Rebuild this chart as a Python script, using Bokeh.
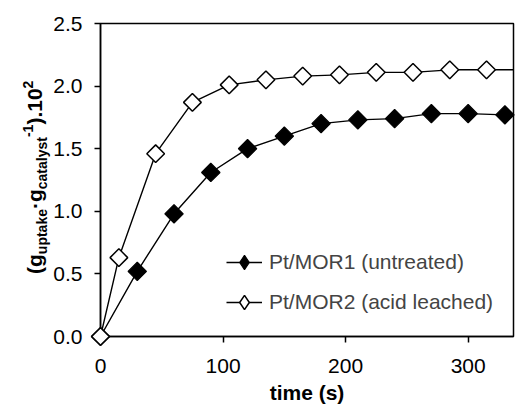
from bokeh.plotting import figure
from bokeh.models import FixedTicker, PrintfTickFormatter, Range1d, Legend, LegendItem, Div
from bokeh.layouts import row
from bokeh.embed import file_html
from bokeh.resources import INLINE
import math

# ---- data ----
time_untreated = [0, 30, 60, 90, 120, 150, 180, 210, 240, 270, 300, 330]
uptake_untreated = [0.0, 0.52, 0.98, 1.31, 1.50, 1.60, 1.70, 1.73, 1.74, 1.78, 1.78, 1.77]
time_leached = [0, 15, 45, 75, 105, 135, 165, 195, 225, 255, 285, 315]
uptake_leached = [0.0, 0.63, 1.46, 1.87, 2.01, 2.05, 2.08, 2.09, 2.11, 2.11, 2.13, 2.13]
# curves continue to the right edge of the frame
curve_end_time = 337
curve_end_untreated = 1.78
curve_end_leached = 2.13

x_ticks = [0, 100, 200, 300]
y_ticks = [0.0, 0.5, 1.0, 1.5, 2.0, 2.5]
legend_labels = ["Pt/MOR1 (untreated)", "Pt/MOR2 (acid leached)"]
x_title = "time (s)"
# y title pieces: (text, kind) kind: main / sub / sup
y_title_pieces = [("(g", "main"), ("uptake", "sub"), ("·g", "main"), ("catalyst", "sub"),
                  ("-1", "sup"), (").10", "main"), ("2", "sup")]

X_END = 337
Y_END = 2.5
FONT = "Liberation Sans"
FS = "21px"

# ---------- main chart ----------
p = figure(width=465, height=406, output_backend="svg", toolbar_location=None,
           x_range=Range1d(0, X_END), y_range=Range1d(0, Y_END),
           min_border_left=47, min_border_right=2, min_border_top=23, min_border_bottom=70)
p.margin = 0
p.background_fill_color = "white"
p.border_fill_color = "white"
p.outline_line_color = "black"
p.outline_line_width = 1.5
p.xgrid.visible = False
p.ygrid.visible = False

for ax in (p.xaxis[0], p.yaxis[0]):
    ax.axis_line_color = "black"
    ax.axis_line_width = 1.5
    ax.major_tick_line_color = "black"
    ax.major_tick_line_width = 1.5
    ax.major_tick_in = 0
    ax.major_tick_out = 6
    ax.minor_tick_line_color = None
    ax.major_label_text_font = FONT
    ax.major_label_text_font_size = FS
    ax.major_label_text_color = "black"
    ax.major_label_text_line_height = 1.0

p.xaxis.ticker = FixedTicker(ticks=x_ticks)
p.xaxis.formatter = PrintfTickFormatter(format="%d")
p.xaxis.major_label_standoff = 16
p.xaxis.axis_label = x_title
p.xaxis.axis_label_text_font = FONT
p.xaxis.axis_label_text_font_style = "bold"
p.xaxis.axis_label_text_font_size = FS
p.xaxis.axis_label_standoff = 5
p.xaxis.axis_label_text_color = "black"
p.xaxis.axis_label_text_line_height = 1.0

p.yaxis.ticker = FixedTicker(ticks=y_ticks)
p.yaxis.formatter = PrintfTickFormatter(format="%.1f")
p.yaxis.major_label_standoff = 12

# curves
l1 = p.line(time_untreated + [curve_end_time], uptake_untreated + [curve_end_untreated],
            line_color="black", line_width=1.4)
l2 = p.line(time_leached + [curve_end_time], uptake_leached + [curve_end_leached],
            line_color="black", line_width=1.4)
# markers: rotated squares (diamonds)
p.scatter(time_untreated, uptake_untreated, marker="square", angle=math.pi / 4,
          size=13, fill_color="black", line_color="black", line_width=1.2, level="overlay")
p.scatter(time_leached, uptake_leached, marker="square", angle=math.pi / 4,
          size=12.5, fill_color="white", line_color="black", line_width=1.5, level="overlay")
# legend-only diamond glyphs (legends draw markers unrotated)
d1 = p.scatter(time_untreated, uptake_untreated, marker="diamond", size=13,
               fill_color="black", line_color="black", line_width=1.2, visible=False)
d2 = p.scatter(time_leached, uptake_leached, marker="diamond", size=13,
               fill_color="white", line_color="black", line_width=1.5, visible=False)

legend = Legend(items=[LegendItem(label=legend_labels[0], renderers=[l1, d1]),
                       LegendItem(label=legend_labels[1], renderers=[l2, d2])],
                location=(126, 14), padding=0, margin=0, spacing=0,
                glyph_width=36, glyph_height=40, label_height=40, label_standoff=7,
                label_text_font=FONT, label_text_font_size=FS,
                background_fill_alpha=0, border_line_alpha=0, inactive_fill_alpha=0)
p.add_layout(legend, "center")

# ---------- y-axis title (HTML text rotated, with sub/superscripts) ----------
span_style = {
    "main": "",
    "sub": "font-size:14px; line-height:0; vertical-align:-5px;",
    "sup": "font-size:14px; line-height:0; vertical-align:9px;",
}
inner = "".join(
    txt if kind == "main" else f'<span style="{span_style[kind]}">{txt}</span>'
    for txt, kind in y_title_pieces
)
html = (
    '<div style="position:absolute; left:0; top:0; white-space:nowrap; width:max-content; '
    f"font-family:'{FONT}'; font-weight:bold; font-size:21px; line-height:24px; color:black; "
    'transform-origin:0 0; transform:translate(23px, 274px) rotate(-90deg);">'
    + inner + "</div>"
)
ytitle = Div(text=html, width=50, height=300, margin=0,
             styles={"position": "relative", "overflow": "visible"})

layout = row(ytitle, p, spacing=0)
open("out.html", "w").write(file_html(layout, INLINE))
